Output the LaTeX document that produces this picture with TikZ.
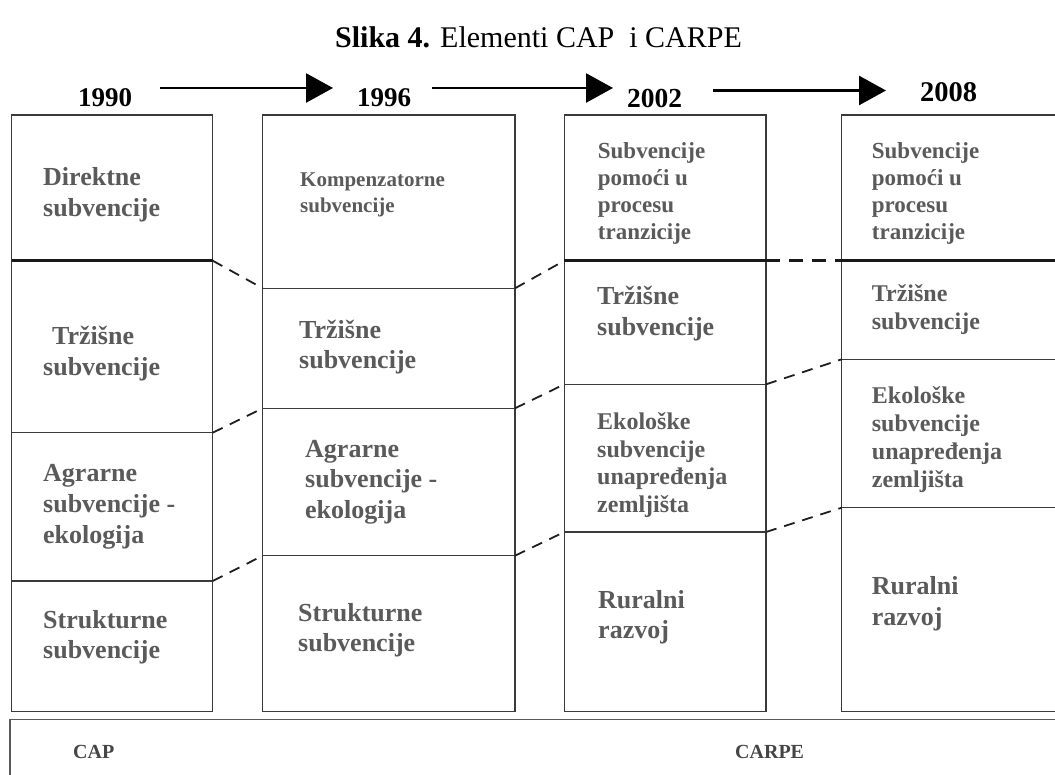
\documentclass[tikz,border=0pt]{standalone}
\usepackage{fontspec}
\setmainfont{Liberation Serif}
\usetikzlibrary{arrows.meta}
\definecolor{ink}{HTML}{3A3A3A}
\definecolor{txt}{HTML}{5A5A5A}
\definecolor{captxt}{HTML}{454545}
\newcommand\setfs[2]{\fontsize{#1}{#2}\selectfont}
\tikzset{
  cell/.style={draw=ink, line width=1.3pt},
  thinrule/.style={draw=ink, line width=1.3pt},
  thickrule/.style={draw=black!90, line width=2.8pt},
  link/.style={draw=black!88, line width=1.8pt, dash pattern=on 11pt off 8pt},
  thicklink/.style={draw=black!90, line width=2.8pt, dash pattern=on 14pt off 9pt},
  frame/.style={draw=black!65, line width=1.8pt},
  % multi-line cell texts: the base anchor sits on the last line
  celltext/.style={anchor=base west, inner sep=0pt, align=left, text=txt},
  year/.style={anchor=base west, inner sep=0pt},
  timeline/.style={line width=2.7pt, -{Triangle[length=27pt,width=29pt]}},
}
\begin{document}
\begin{tikzpicture}[x=1pt,y=-1pt]
\useasboundingbox (0,0) rectangle (1055,775);
\clip (0,0) rectangle (1055,775);

% title
\node[year, font=\setfs{30}{34}] (title) at (335,48)
  {\textbf{Slika 4.} Elementi CAP\ \ i CARPE};

% years and timeline
\node[year, font=\bfseries\setfs{27}{32}] (y1990) at (78,107) {1990};
\node[year, font=\bfseries\setfs{27}{32}] (y1996) at (357,107) {1996};
\node[year, font=\bfseries\setfs{27.5}{32}] (y2002) at (627,108) {2002};
\node[year, font=\bfseries\setfs{28.5}{32}] (y2008) at (920,102) {2008};

\coordinate (a1s) at (160,88);   \coordinate (a1e) at (333,88);
\coordinate (a2s) at (432,88);   \coordinate (a2e) at (613,88);
\coordinate (a3s) at (713,90.5); \coordinate (a3e) at (886,90.5);
\draw[timeline] (a1s) -- (a1e);
\draw[timeline] (a2s) -- (a2e);
\draw[timeline] (a3s) -- (a3e);

% columns
\draw[cell] (11.7,115) rectangle (212.7,711.7);
\draw[cell] (262.7,115) rectangle (515,711.7);
\draw[cell] (564.3,115) rectangle (766,711.7);
\draw[cell] (841.7,115) rectangle (1080,711.7);

% divider end points
\coordinate (c1l0) at (11.7,260.7);  \coordinate (c1r0) at (212.7,260.7);
\coordinate (c1l1) at (11.7,432.7);  \coordinate (c1r1) at (212.7,432.7);
\coordinate (c1l2) at (11.7,581);    \coordinate (c1r2) at (212.7,581);
\coordinate (c2l0) at (262.7,288.3); \coordinate (c2r0) at (515,288.3);
\coordinate (c2l1) at (262.7,408.3); \coordinate (c2r1) at (515,408.3);
\coordinate (c2l2) at (262.7,555.7); \coordinate (c2r2) at (515,555.7);
\coordinate (c3l0) at (564.3,260.7); \coordinate (c3r0) at (766,260.7);
\coordinate (c3l1) at (564.3,384.3); \coordinate (c3r1) at (766,384.3);
\coordinate (c3l2) at (564.3,532);   \coordinate (c3r2) at (766,532);
\coordinate (c4l0) at (841.7,260.7); \coordinate (c4r0) at (1080,260.7);
\coordinate (c4l1) at (841.7,359.3); \coordinate (c4r1) at (1080,359.3);
\coordinate (c4l2) at (841.7,507.7); \coordinate (c4r2) at (1080,507.7);

% dividers
\draw[thickrule] (c1l0) -- (c1r0);
\draw[thinrule] (c1l1) -- (c1r1);
\draw[thinrule] (c1l2) -- (c1r2);
\draw[thinrule] (c2l0) -- (c2r0);
\draw[thinrule] (c2l1) -- (c2r1);
\draw[thinrule] (c2l2) -- (c2r2);
\draw[thickrule] (c3l0) -- (c3r0);
\draw[thinrule] (c3l1) -- (c3r1);
\draw[thinrule] (c3l2) -- (c3r2);
\draw[thickrule] (c4l0) -- (c4r0);
\draw[thinrule] (c4l1) -- (c4r1);
\draw[thinrule] (c4l2) -- (c4r2);

% dashed links between neighbouring columns
\draw[link] (c1r0) -- (c2l0);
\draw[link] (c1r1) -- (c2l1);
\draw[link] (c1r2) -- (c2l2);
\draw[link] (c2r0) -- (c3l0);
\draw[link] (c2r1) -- (c3l1);
\draw[link] (c2r2) -- (c3l2);
\draw[thicklink] (c3r0) -- (c4l0);
\draw[link] (c3r1) -- (c4l1);
\draw[link] (c3r2) -- (c4l2);

% column 1990
\node[celltext, font=\bfseries\setfs{26}{31}] (t11) at (43,217) {Direktne\\subvencije};
\node[celltext, font=\bfseries\setfs{26}{31}] (t12) at (43,376) {\hspace*{9pt}Tržišne\\subvencije};
\node[celltext, font=\bfseries\setfs{26}{30.6}] (t13) at (43,543) {Agrarne\\subvencije -\\ekologija};
\node[celltext, font=\bfseries\setfs{26}{30}] (t14) at (43,658) {Strukturne\\subvencije};

% column 1996
\node[celltext, font=\bfseries\setfs{21}{26}] (t21) at (300,213) {Kompenzatorne\\subvencije};
\node[celltext, font=\bfseries\setfs{26}{30}] (t22) at (299,368.3) {Tržišne\\subvencije};
\node[celltext, font=\bfseries\setfs{26}{30.5}] (t23) at (305,518.3) {Agrarne\\subvencije -\\ekologija};
\node[celltext, font=\bfseries\setfs{26}{30}] (t24) at (298,651.7) {Strukturne\\subvencije};

% column 2002
\node[celltext, font=\bfseries\setfs{23}{27.2}] (t31) at (597.7,240) {Subvencije\\pomoći u\\procesu\\tranzicije};
\node[celltext, font=\bfseries\setfs{26}{31}] (t32) at (597,336) {Tržišne\\subvencije};
\node[celltext, font=\bfseries\setfs{24}{27.8}] (t33) at (597,512.7) {Ekološke\\subvencije\\unapređenja\\zemljišta};
\node[celltext, font=\bfseries\setfs{26}{30}] (t34) at (598,638.3) {Ruralni\\razvoj};

% column 2008
\node[celltext, font=\bfseries\setfs{23}{27.2}] (t41) at (871.7,240) {Subvencije\\pomoći u\\procesu\\tranzicije};
\node[celltext, font=\bfseries\setfs{24}{27.6}] (t42) at (871.7,329.3) {Tržišne\\subvencije};
\node[celltext, font=\bfseries\setfs{24}{28}] (t43) at (871.7,487.3) {Ekološke\\subvencije\\unapređenja\\zemljišta};
\node[celltext, font=\bfseries\setfs{26}{31}] (t44) at (871.7,625) {Ruralni\\razvoj};

% bottom band
\draw[frame] (10,790) -- (10,719.5) -- (1080,719.5);
\node[celltext, text=captxt, font=\bfseries\setfs{20}{24}] (cap) at (73,758) {CAP};
\node[celltext, text=captxt, font=\bfseries\setfs{20}{24}] (carpe) at (735,758) {CARPE};
\end{tikzpicture}
\end{document}
